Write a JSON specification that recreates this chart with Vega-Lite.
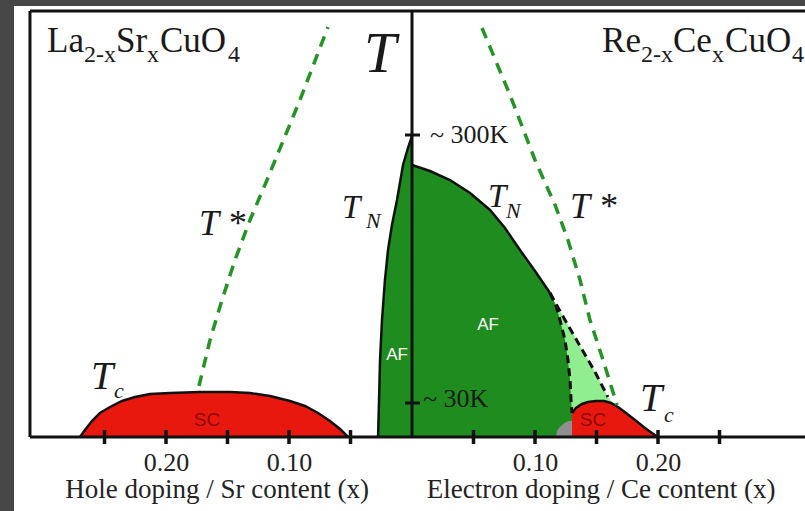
{
  "$schema": "https://vega.github.io/schema/vega-lite/v6.json",
  "width": 791,
  "height": 505,
  "autosize": {"type": "none"},
  "padding": {"left": 14, "top": 6, "right": 0, "bottom": 0},
  "background": "#474747",
  "config": {"view": {"fill": "white", "stroke": null}},
  "datasets": {
    "scLeft": [{"x":-0.2699,"T":0},{"x":-0.2659,"T":7},{"x":-0.2602,"T":16},{"x":-0.2537,"T":24},{"x":-0.2455,"T":30},{"x":-0.2358,"T":36},{"x":-0.2252,"T":40},{"x":-0.2130,"T":43},{"x":-0.1967,"T":44},{"x":-0.1724,"T":45},{"x":-0.1480,"T":45},{"x":-0.1317,"T":44},{"x":-0.1154,"T":41},{"x":-0.0992,"T":36},{"x":-0.0870,"T":31},{"x":-0.0764,"T":24},{"x":-0.0667,"T":16},{"x":-0.0585,"T":8},{"x":-0.0520,"T":0}],
    "afLeft": [{"x":-0.0276,"T":0},{"x":-0.0268,"T":37},{"x":-0.0260,"T":77},{"x":-0.0244,"T":117},{"x":-0.0220,"T":157},{"x":-0.0195,"T":187},{"x":-0.0163,"T":212},{"x":-0.0122,"T":237},{"x":-0.0073,"T":272},{"x":-0.0033,"T":289},{"x":0,"T":301}],
    "afRightSolid": [{"x":0,"T":272},{"x":0.0146,"T":266},{"x":0.0309,"T":257},{"x":0.0472,"T":244},{"x":0.0634,"T":227},{"x":0.0756,"T":209},{"x":0.0878,"T":187},{"x":0.1000,"T":166},{"x":0.1122,"T":144}],
    "afRightDash": [{"x":0.1122,"T":144},{"x":0.1171,"T":131},{"x":0.1203,"T":117},{"x":0.1244,"T":97},{"x":0.1268,"T":77},{"x":0.1285,"T":57},{"x":0.1293,"T":37},{"x":0.1301,"T":24}],
    "afRightArea": [{"x":0,"T":272},{"x":0.0146,"T":266},{"x":0.0309,"T":257},{"x":0.0472,"T":244},{"x":0.0634,"T":227},{"x":0.0756,"T":209},{"x":0.0878,"T":187},{"x":0.1000,"T":166},{"x":0.1122,"T":144},{"x":0.1171,"T":131},{"x":0.1203,"T":117},{"x":0.1244,"T":97},{"x":0.1268,"T":77},{"x":0.1285,"T":57},{"x":0.1293,"T":37},{"x":0.1301,"T":24}],
    "diagDash": [{"x":0.1122,"T":144},{"x":0.1244,"T":117},{"x":0.1366,"T":91},{"x":0.1488,"T":65},{"x":0.1593,"T":40}],
    "lightGreen": [{"x":0.1106,"T":146},{"x":0.1122,"T":144},{"x":0.1244,"T":117},{"x":0.1366,"T":91},{"x":0.1488,"T":65},{"x":0.1593,"T":40},{"x":0.1642,"T":32}],
    "grayBlob": [{"x":0.1171,"T":0},{"x":0.1179,"T":6},{"x":0.1195,"T":9},{"x":0.1220,"T":12},{"x":0.1252,"T":15},{"x":0.1276,"T":16},{"x":0.1301,"T":16}],
    "scRight": [{"x":0.1301,"T":24},{"x":0.1333,"T":29},{"x":0.1382,"T":33},{"x":0.1431,"T":35},{"x":0.1496,"T":36},{"x":0.1561,"T":36},{"x":0.1618,"T":34},{"x":0.1675,"T":30},{"x":0.1740,"T":24},{"x":0.1813,"T":17},{"x":0.1894,"T":9},{"x":0.1951,"T":4},{"x":0.2000,"T":0}],
    "tstarLeft": [{"x":-0.1732,"T":51},{"x":-0.1642,"T":97},{"x":-0.1545,"T":137},{"x":-0.1439,"T":177},{"x":-0.1317,"T":217},{"x":-0.1179,"T":257},{"x":-0.0911,"T":337},{"x":-0.0683,"T":410}],
    "tstarRight": [{"x":0.0569,"T":409},{"x":0.0797,"T":342},{"x":0.1000,"T":277},{"x":0.1163,"T":232},{"x":0.1268,"T":197},{"x":0.1366,"T":157},{"x":0.1447,"T":117},{"x":0.1553,"T":77},{"x":0.1667,"T":32}],
    "frame": [{"x":-0.3106,"x2":0.31951,"T":0,"T2":0},{"x":-0.3106,"x2":-0.3106,"T":0,"T2":426},{"x":-0.3106,"x2":0.31951,"T":426,"T2":426},{"x":0,"x2":0,"T":0,"T2":426}],
    "xTicks": [{"x":-0.25,"T":0},{"x":-0.2,"T":0},{"x":-0.15,"T":0},{"x":-0.1,"T":0},{"x":-0.05,"T":0},{"x":0.05,"T":0},{"x":0.1,"T":0},{"x":0.15,"T":0},{"x":0.2,"T":0},{"x":0.25,"T":0}],
    "yTicks": [{"x":0.0004,"T":302},{"x":0.0004,"T":34}],
    "formulaMain": [{"t":"La","x":-0.2967,"T":385},{"t":"Sr","x":-0.2407,"T":385},{"t":"CuO","x":-0.2049,"T":385},{"t":"Re","x":0.1545,"T":385},{"t":"Ce","x":0.2122,"T":385},{"t":"CuO","x":0.2545,"T":385}],
    "formulaSub": [{"t":"2-x","x":-0.2667,"T":375},{"t":"x","x":-0.2154,"T":375},{"t":"4","x":-0.1496,"T":375},{"t":"2-x","x":0.1862,"T":375},{"t":"x","x":0.2439,"T":375},{"t":"4","x":0.3089,"T":375}],
    "bigT": [{"t":"T","x":-0.0260,"T":365}],
    "tstarLabels": [{"t":"T *","x":-0.1732,"T":202},{"t":"T *","x":0.1285,"T":219}],
    "tnT": [{"t":"T","x":-0.0569,"T":219},{"t":"T","x":0.0618,"T":230}],
    "tcT": [{"t":"T","x":-0.2610,"T":48},{"t":"T","x":0.1854,"T":26}],
    "subItalic": [{"t":"N","x":-0.0374,"T":209},{"t":"N","x":0.0764,"T":219},{"t":"c","x":-0.2423,"T":39},{"t":"c","x":0.2049,"T":15}],
    "kLabels": [{"t":"~ 300K","x":0.0146,"T":294},{"t":"~ 30K","x":0.0089,"T":30}],
    "afLabels": [{"t":"AF","x":-0.0122,"T":82},{"t":"AF","x":0.0618,"T":112}],
    "scLabels": [{"t":"SC","x":-0.1667,"T":17},{"t":"SC","x":0.1472,"T":17}],
    "axisTitles": [{"t":"Hole doping / Sr content (x)","x":-0.1585,"T":-61},{"t":"Electron doping / Ce content (x)","x":0.1537,"T":-61}]
  },
  "encoding": {
    "x": {"field": "x", "type": "quantitative", "scale": {"domain": [-0.32358, 0.31951], "nice": false, "zero": false},
      "axis": {"orient": "bottom", "offset": -74, "values": [-0.2, -0.1, 0.1, 0.2], "labelExpr": "format(abs(datum.value), '.2f')", "domain": false, "ticks": false, "tickSize": 0, "grid": false, "title": null, "labelFont": "Liberation Serif", "labelFontSize": 26, "labelColor": "#222222", "labelPadding": 33, "labelBaseline": "alphabetic", "labelOverlap": false, "labelFlush": false}},
    "y": {"field": "T", "type": "quantitative", "scale": {"domain": [-74, 431], "nice": false, "zero": false}, "axis": null}
  },
  "layer": [
    {"data": {"name": "lightGreen"}, "mark": {"type": "area", "color": "#90ee90"}, "encoding": {"y2": {"datum": 0}}},
    {"data": {"name": "afRightArea"}, "mark": {"type": "area", "color": "#1f8c1f"}, "encoding": {"y2": {"datum": 0}}},
    {"data": {"name": "afLeft"}, "mark": {"type": "area", "orient": "horizontal", "color": "#1f8c1f"}, "encoding": {"x2": {"datum": 0}}},
    {"data": {"name": "grayBlob"}, "mark": {"type": "area", "color": "#8f8f8f"}, "encoding": {"y2": {"datum": 0}}},
    {"data": {"name": "scLeft"}, "mark": {"type": "area", "color": "#e8180f"}, "encoding": {"y2": {"datum": 0}}},
    {"data": {"name": "scRight"}, "mark": {"type": "area", "color": "#e8180f"}, "encoding": {"y2": {"datum": 0}}},
    {"data": {"name": "scLeft"}, "mark": {"type": "line", "color": "#111111", "strokeWidth": 2.5}},
    {"data": {"name": "scRight"}, "mark": {"type": "line", "color": "#111111", "strokeWidth": 2.5}},
    {"data": {"name": "afLeft"}, "mark": {"type": "line", "color": "#111111", "strokeWidth": 2.5}},
    {"data": {"name": "afRightSolid"}, "mark": {"type": "line", "color": "#111111", "strokeWidth": 2.5}},
    {"data": {"name": "afRightDash"}, "mark": {"type": "line", "color": "#111111", "strokeWidth": 3, "strokeDash": [8, 5]}},
    {"data": {"name": "diagDash"}, "mark": {"type": "line", "color": "#111111", "strokeWidth": 3, "strokeDash": [8, 5]}},
    {"data": {"name": "tstarLeft"}, "mark": {"type": "line", "color": "#249424", "strokeWidth": 3.5, "strokeDash": [11, 8]}},
    {"data": {"name": "tstarRight"}, "mark": {"type": "line", "color": "#249424", "strokeWidth": 3.5, "strokeDash": [11, 8]}},
    {"data": {"name": "frame"}, "mark": {"type": "rule", "color": "#111111", "strokeWidth": 3}, "encoding": {"x2": {"field": "x2"}, "y2": {"field": "T2"}}},
    {"data": {"name": "xTicks"}, "mark": {"type": "tick", "orient": "vertical", "size": 14, "thickness": 3.5, "color": "#111111", "opacity": 1}},
    {"data": {"name": "yTicks"}, "mark": {"type": "tick", "orient": "horizontal", "size": 15, "thickness": 3, "color": "#111111", "opacity": 1}},
    {"data": {"name": "formulaMain"}, "mark": {"type": "text", "font": "Liberation Serif", "fontSize": 35, "align": "left", "baseline": "alphabetic", "color": "#1a1a1a"}, "encoding": {"text": {"field": "t"}}},
    {"data": {"name": "formulaSub"}, "mark": {"type": "text", "font": "Liberation Serif", "fontSize": 24, "align": "left", "baseline": "alphabetic", "color": "#1a1a1a"}, "encoding": {"text": {"field": "t"}}},
    {"data": {"name": "bigT"}, "mark": {"type": "text", "font": "Liberation Serif", "fontStyle": "italic", "fontSize": 58, "align": "center", "baseline": "alphabetic", "color": "#1a1a1a"}, "encoding": {"text": {"field": "t"}}},
    {"data": {"name": "tstarLabels"}, "mark": {"type": "text", "font": "Liberation Serif", "fontStyle": "italic", "fontSize": 36, "align": "left", "baseline": "alphabetic", "color": "#1a1a1a"}, "encoding": {"text": {"field": "t"}}},
    {"data": {"name": "tnT"}, "mark": {"type": "text", "font": "Liberation Serif", "fontStyle": "italic", "fontSize": 33, "align": "left", "baseline": "alphabetic", "color": "#1a1a1a"}, "encoding": {"text": {"field": "t"}}},
    {"data": {"name": "tcT"}, "mark": {"type": "text", "font": "Liberation Serif", "fontStyle": "italic", "fontSize": 40, "align": "left", "baseline": "alphabetic", "color": "#1a1a1a"}, "encoding": {"text": {"field": "t"}}},
    {"data": {"name": "subItalic"}, "mark": {"type": "text", "font": "Liberation Serif", "fontStyle": "italic", "fontSize": 22, "align": "left", "baseline": "alphabetic", "color": "#1a1a1a"}, "encoding": {"text": {"field": "t"}}},
    {"data": {"name": "kLabels"}, "mark": {"type": "text", "font": "Liberation Serif", "fontSize": 26, "align": "left", "baseline": "alphabetic", "color": "#1a1a1a"}, "encoding": {"text": {"field": "t"}}},
    {"data": {"name": "afLabels"}, "mark": {"type": "text", "font": "Liberation Sans", "fontSize": 17, "align": "center", "baseline": "middle", "color": "#ffffff"}, "encoding": {"text": {"field": "t"}}},
    {"data": {"name": "scLabels"}, "mark": {"type": "text", "font": "Liberation Sans", "fontSize": 19, "align": "center", "baseline": "middle", "color": "#8e0808"}, "encoding": {"text": {"field": "t"}}},
    {"data": {"name": "axisTitles"}, "mark": {"type": "text", "font": "Liberation Serif", "fontSize": 27, "align": "center", "baseline": "alphabetic", "color": "#222222"}, "encoding": {"text": {"field": "t"}}}
  ]
}
